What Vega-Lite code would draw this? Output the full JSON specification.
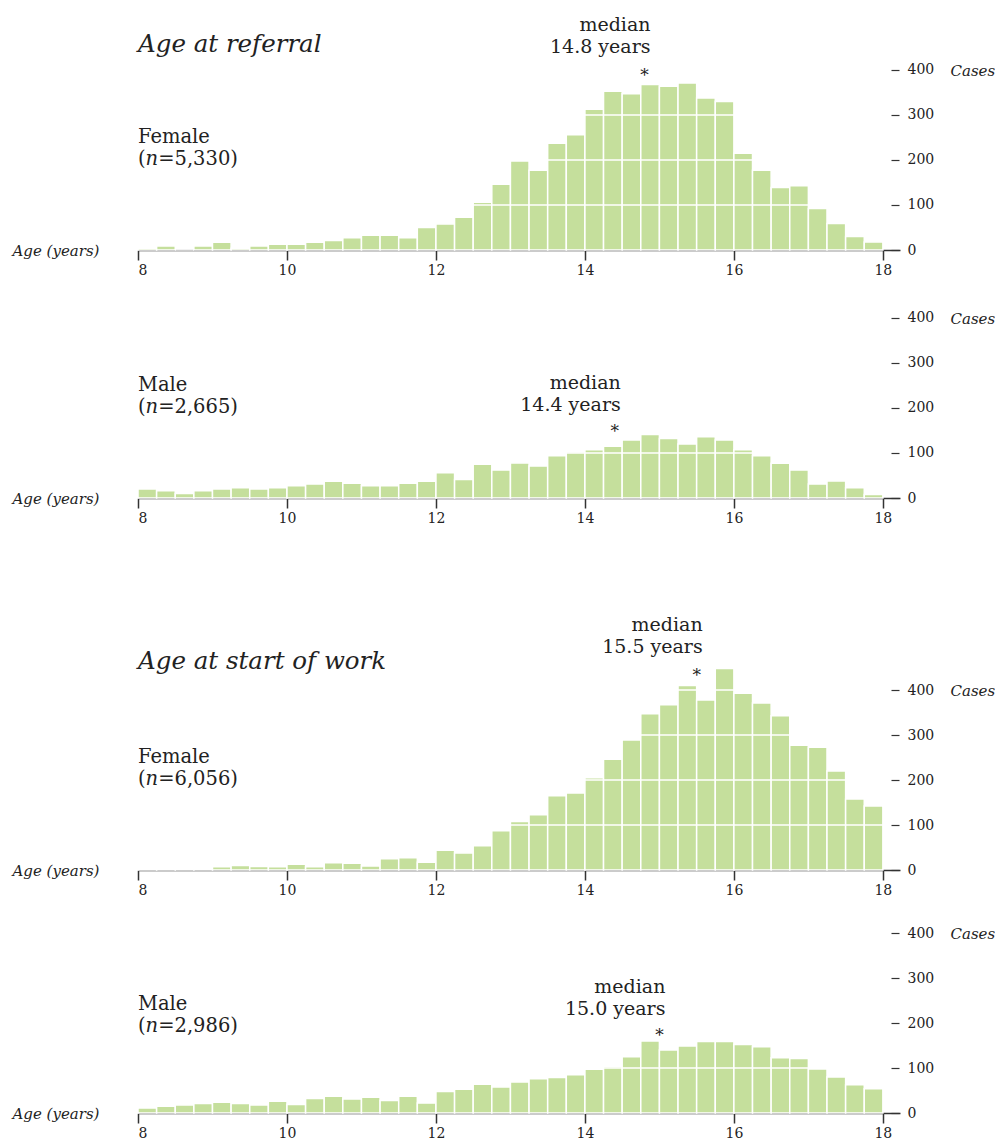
{
  "$schema": "https://vega.github.io/schema/vega-lite/v6.json",
  "background": "white",
  "padding": {"left": 12, "top": 6, "right": 0, "bottom": 0},
  "spacing": 0,
  "config": {
    "view": {"stroke": null},
    "font": "DejaVu Serif",
    "text": {"font": "DejaVu Serif", "color": "#222"},
    "axisX": {
      "grid": false,
      "domainColor": "#333", "domainWidth": 1.5, "tickColor": "#333", "tickWidth": 1.5, "tickSize": 10,
      "labelFont": "DejaVu Serif", "labelFontSize": 14, "labelPadding": 3, "labelColor": "#222",
      "titleFont": "DejaVu Serif", "titleFontStyle": "italic", "titleFontWeight": "normal", "titleFontSize": 15, "titleColor": "#222",
      "titleX": -126, "titleY": 0, "titleAlign": "left", "titleBaseline": "middle", "zindex": 1
    },
    "axisY": {
      "domain": false, "grid": false,
      "tickColor": "#333", "tickWidth": 1.2, "tickSize": 8,
      "labelFont": "DejaVu Serif", "labelFontSize": 14, "labelPadding": 8, "labelColor": "#222", "labelBaseline": "middle",
      "titleFont": "DejaVu Serif", "titleFontStyle": "italic", "titleFontWeight": "normal", "titleFontSize": 15, "titleColor": "#222",
      "titleAngle": 0, "titleAlign": "left", "titleBaseline": "middle", "titleX": 59, "zindex": 1
    }
  },
  "datasets": {
    "bins": [
      {"p":1,"a":8,"b":8.25,"n":4},{"p":1,"a":8.25,"b":8.5,"n":9},{"p":1,"a":8.5,"b":8.75,"n":0},{"p":1,"a":8.75,"b":9,"n":9},
      {"p":1,"a":9,"b":9.25,"n":17},{"p":1,"a":9.25,"b":9.5,"n":4},{"p":1,"a":9.5,"b":9.75,"n":9},{"p":1,"a":9.75,"b":10,"n":13},
      {"p":1,"a":10,"b":10.25,"n":13},{"p":1,"a":10.25,"b":10.5,"n":17},{"p":1,"a":10.5,"b":10.75,"n":21},{"p":1,"a":10.75,"b":11,"n":27},
      {"p":1,"a":11,"b":11.25,"n":33},{"p":1,"a":11.25,"b":11.5,"n":33},{"p":1,"a":11.5,"b":11.75,"n":27},{"p":1,"a":11.75,"b":12,"n":50},
      {"p":1,"a":12,"b":12.25,"n":58},{"p":1,"a":12.25,"b":12.5,"n":73},{"p":1,"a":12.5,"b":12.75,"n":106},{"p":1,"a":12.75,"b":13,"n":146},
      {"p":1,"a":13,"b":13.25,"n":198},{"p":1,"a":13.25,"b":13.5,"n":177},{"p":1,"a":13.5,"b":13.75,"n":237},{"p":1,"a":13.75,"b":14,"n":256},
      {"p":1,"a":14,"b":14.25,"n":313},{"p":1,"a":14.25,"b":14.5,"n":353},{"p":1,"a":14.5,"b":14.75,"n":347},{"p":1,"a":14.75,"b":15,"n":368},
      {"p":1,"a":15,"b":15.25,"n":364},{"p":1,"a":15.25,"b":15.5,"n":371},{"p":1,"a":15.5,"b":15.75,"n":338},{"p":1,"a":15.75,"b":16,"n":330},
      {"p":1,"a":16,"b":16.25,"n":215},{"p":1,"a":16.25,"b":16.5,"n":177},{"p":1,"a":16.5,"b":16.75,"n":139},{"p":1,"a":16.75,"b":17,"n":143},
      {"p":1,"a":17,"b":17.25,"n":92},{"p":1,"a":17.25,"b":17.5,"n":59},{"p":1,"a":17.5,"b":17.75,"n":30},{"p":1,"a":17.75,"b":18,"n":18},

      {"p":2,"a":8,"b":8.25,"n":20},{"p":2,"a":8.25,"b":8.5,"n":16},{"p":2,"a":8.5,"b":8.75,"n":10},{"p":2,"a":8.75,"b":9,"n":16},
      {"p":2,"a":9,"b":9.25,"n":20},{"p":2,"a":9.25,"b":9.5,"n":23},{"p":2,"a":9.5,"b":9.75,"n":20},{"p":2,"a":9.75,"b":10,"n":23},
      {"p":2,"a":10,"b":10.25,"n":27},{"p":2,"a":10.25,"b":10.5,"n":31},{"p":2,"a":10.5,"b":10.75,"n":37},{"p":2,"a":10.75,"b":11,"n":33},
      {"p":2,"a":11,"b":11.25,"n":27},{"p":2,"a":11.25,"b":11.5,"n":27},{"p":2,"a":11.5,"b":11.75,"n":33},{"p":2,"a":11.75,"b":12,"n":37},
      {"p":2,"a":12,"b":12.25,"n":56},{"p":2,"a":12.25,"b":12.5,"n":41},{"p":2,"a":12.5,"b":12.75,"n":75},{"p":2,"a":12.75,"b":13,"n":62},
      {"p":2,"a":13,"b":13.25,"n":78},{"p":2,"a":13.25,"b":13.5,"n":71},{"p":2,"a":13.5,"b":13.75,"n":94},{"p":2,"a":13.75,"b":14,"n":102},
      {"p":2,"a":14,"b":14.25,"n":107},{"p":2,"a":14.25,"b":14.5,"n":115},{"p":2,"a":14.5,"b":14.75,"n":129},{"p":2,"a":14.75,"b":15,"n":141},
      {"p":2,"a":15,"b":15.25,"n":132},{"p":2,"a":15.25,"b":15.5,"n":120},{"p":2,"a":15.5,"b":15.75,"n":136},{"p":2,"a":15.75,"b":16,"n":129},
      {"p":2,"a":16,"b":16.25,"n":107},{"p":2,"a":16.25,"b":16.5,"n":94},{"p":2,"a":16.5,"b":16.75,"n":77},{"p":2,"a":16.75,"b":17,"n":62},
      {"p":2,"a":17,"b":17.25,"n":31},{"p":2,"a":17.25,"b":17.5,"n":38},{"p":2,"a":17.5,"b":17.75,"n":23},{"p":2,"a":17.75,"b":18,"n":8},

      {"p":3,"a":8,"b":8.25,"n":2},{"p":3,"a":8.25,"b":8.5,"n":3},{"p":3,"a":8.5,"b":8.75,"n":3},{"p":3,"a":8.75,"b":9,"n":3},
      {"p":3,"a":9,"b":9.25,"n":7},{"p":3,"a":9.25,"b":9.5,"n":10},{"p":3,"a":9.5,"b":9.75,"n":8},{"p":3,"a":9.75,"b":10,"n":7},
      {"p":3,"a":10,"b":10.25,"n":13},{"p":3,"a":10.25,"b":10.5,"n":7},{"p":3,"a":10.5,"b":10.75,"n":16},{"p":3,"a":10.75,"b":11,"n":15},
      {"p":3,"a":11,"b":11.25,"n":9},{"p":3,"a":11.25,"b":11.5,"n":25},{"p":3,"a":11.5,"b":11.75,"n":27},{"p":3,"a":11.75,"b":12,"n":17},
      {"p":3,"a":12,"b":12.25,"n":44},{"p":3,"a":12.25,"b":12.5,"n":38},{"p":3,"a":12.5,"b":12.75,"n":54},{"p":3,"a":12.75,"b":13,"n":87},
      {"p":3,"a":13,"b":13.25,"n":108},{"p":3,"a":13.25,"b":13.5,"n":123},{"p":3,"a":13.5,"b":13.75,"n":165},{"p":3,"a":13.75,"b":14,"n":171},
      {"p":3,"a":14,"b":14.25,"n":205},{"p":3,"a":14.25,"b":14.5,"n":246},{"p":3,"a":14.5,"b":14.75,"n":289},{"p":3,"a":14.75,"b":15,"n":347},
      {"p":3,"a":15,"b":15.25,"n":367},{"p":3,"a":15.25,"b":15.5,"n":410},{"p":3,"a":15.5,"b":15.75,"n":378},{"p":3,"a":15.75,"b":16,"n":448},
      {"p":3,"a":16,"b":16.25,"n":393},{"p":3,"a":16.25,"b":16.5,"n":371},{"p":3,"a":16.5,"b":16.75,"n":343},{"p":3,"a":16.75,"b":17,"n":277},
      {"p":3,"a":17,"b":17.25,"n":273},{"p":3,"a":17.25,"b":17.5,"n":220},{"p":3,"a":17.5,"b":17.75,"n":158},{"p":3,"a":17.75,"b":18,"n":142},

      {"p":4,"a":8,"b":8.25,"n":11},{"p":4,"a":8.25,"b":8.5,"n":15},{"p":4,"a":8.5,"b":8.75,"n":18},{"p":4,"a":8.75,"b":9,"n":21},
      {"p":4,"a":9,"b":9.25,"n":24},{"p":4,"a":9.25,"b":9.5,"n":21},{"p":4,"a":9.5,"b":9.75,"n":18},{"p":4,"a":9.75,"b":10,"n":26},
      {"p":4,"a":10,"b":10.25,"n":19},{"p":4,"a":10.25,"b":10.5,"n":32},{"p":4,"a":10.5,"b":10.75,"n":37},{"p":4,"a":10.75,"b":11,"n":31},
      {"p":4,"a":11,"b":11.25,"n":35},{"p":4,"a":11.25,"b":11.5,"n":28},{"p":4,"a":11.5,"b":11.75,"n":37},{"p":4,"a":11.75,"b":12,"n":22},
      {"p":4,"a":12,"b":12.25,"n":48},{"p":4,"a":12.25,"b":12.5,"n":53},{"p":4,"a":12.5,"b":12.75,"n":64},{"p":4,"a":12.75,"b":13,"n":58},
      {"p":4,"a":13,"b":13.25,"n":69},{"p":4,"a":13.25,"b":13.5,"n":76},{"p":4,"a":13.5,"b":13.75,"n":79},{"p":4,"a":13.75,"b":14,"n":85},
      {"p":4,"a":14,"b":14.25,"n":97},{"p":4,"a":14.25,"b":14.5,"n":103},{"p":4,"a":14.5,"b":14.75,"n":125},{"p":4,"a":14.75,"b":15,"n":160},
      {"p":4,"a":15,"b":15.25,"n":140},{"p":4,"a":15.25,"b":15.5,"n":149},{"p":4,"a":15.5,"b":15.75,"n":159},{"p":4,"a":15.75,"b":16,"n":159},
      {"p":4,"a":16,"b":16.25,"n":152},{"p":4,"a":16.25,"b":16.5,"n":147},{"p":4,"a":16.5,"b":16.75,"n":123},{"p":4,"a":16.75,"b":17,"n":121},
      {"p":4,"a":17,"b":17.25,"n":98},{"p":4,"a":17.25,"b":17.5,"n":80},{"p":4,"a":17.5,"b":17.75,"n":63},{"p":4,"a":17.75,"b":18,"n":54}
    ],
    "grid": [{"v": 100}, {"v": 200}, {"v": 300}, {"v": 400}],
    "notes": [
      {"p":1,"k":"title","x":8,"y":440,"t":"Age at referral"},
      {"p":1,"k":"group","x":8,"y":238,"t":"Female"},
      {"p":1,"k":"group","x":8,"y":189,"t":"(𝑛=5,330)"},
      {"p":1,"k":"median","x":14.8,"y":487,"t":"median"},
      {"p":1,"k":"median","x":14.8,"y":438,"t":"14.8 years"},
      {"p":1,"k":"star","x":14.8,"y":376,"t":"*"},
      {"p":2,"k":"group","x":8,"y":238,"t":"Male"},
      {"p":2,"k":"group","x":8,"y":189,"t":"(𝑛=2,665)"},
      {"p":2,"k":"median","x":14.4,"y":243,"t":"median"},
      {"p":2,"k":"median","x":14.4,"y":194,"t":"14.4 years"},
      {"p":2,"k":"star","x":14.4,"y":136,"t":"*"},
      {"p":3,"k":"title","x":8,"y":447,"t":"Age at start of work"},
      {"p":3,"k":"group","x":8,"y":238,"t":"Female"},
      {"p":3,"k":"group","x":8,"y":189,"t":"(𝑛=6,056)"},
      {"p":3,"k":"median","x":15.5,"y":531,"t":"median"},
      {"p":3,"k":"median","x":15.5,"y":482,"t":"15.5 years"},
      {"p":3,"k":"star","x":15.5,"y":420,"t":"*"},
      {"p":4,"k":"group","x":8,"y":229,"t":"Male"},
      {"p":4,"k":"group","x":8,"y":180,"t":"(𝑛=2,986)"},
      {"p":4,"k":"median","x":15.0,"y":267,"t":"median"},
      {"p":4,"k":"median","x":15.0,"y":218,"t":"15.0 years"},
      {"p":4,"k":"star","x":15.0,"y":160,"t":"*"}
    ]
  },
  "vconcat": [
    {
      "width": 762, "height": 244,
      "layer": [
        {"data": {"name": "bins"}, "transform": [{"filter": "datum.p == 1"}],
         "mark": {"type": "bar", "color": "#c5df9c", "stroke": "white", "strokeWidth": 1.5},
         "encoding": {
           "x": {"field": "a", "type": "quantitative", "scale": {"domain": [8, 18.23], "nice": false, "zero": false},
                 "axis": {"values": [8, 10, 12, 14, 16, 18], "format": "d", "title": "Age (years)"}},
           "x2": {"field": "b"},
           "y": {"field": "n", "type": "quantitative", "scale": {"domain": [0, 542.2], "nice": false},
                 "axis": {"orient": "right", "offset": -9, "values": [0, 100, 200, 300, 400], "title": "Cases", "titleY": 64}},
           "y2": {"datum": 0}
         }},
        {"data": {"name": "grid"}, "mark": {"type": "rule", "color": "white", "strokeWidth": 1.5},
         "encoding": {"y": {"field": "v", "type": "quantitative"}, "x": {"datum": 8}, "x2": {"datum": 18}}},
        {"data": {"name": "notes"}, "transform": [{"filter": "datum.p == 1 && datum.k == 'title'"}],
         "mark": {"type": "text", "align": "left", "baseline": "alphabetic", "fontSize": 24.5, "fontStyle": "italic"},
         "encoding": {"x": {"field": "x", "type": "quantitative"}, "y": {"field": "y", "type": "quantitative"}, "text": {"field": "t"}}},
        {"data": {"name": "notes"}, "transform": [{"filter": "datum.p == 1 && datum.k == 'group'"}],
         "mark": {"type": "text", "align": "left", "baseline": "alphabetic", "fontSize": 19.5},
         "encoding": {"x": {"field": "x", "type": "quantitative"}, "y": {"field": "y", "type": "quantitative"}, "text": {"field": "t"}}},
        {"data": {"name": "notes"}, "transform": [{"filter": "datum.p == 1 && datum.k == 'median'"}],
         "mark": {"type": "text", "align": "right", "baseline": "alphabetic", "fontSize": 19, "dx": 6},
         "encoding": {"x": {"field": "x", "type": "quantitative"}, "y": {"field": "y", "type": "quantitative"}, "text": {"field": "t"}}},
        {"data": {"name": "notes"}, "transform": [{"filter": "datum.p == 1 && datum.k == 'star'"}],
         "mark": {"type": "text", "align": "center", "baseline": "alphabetic", "fontSize": 17},
         "encoding": {"x": {"field": "x", "type": "quantitative"}, "y": {"field": "y", "type": "quantitative"}, "text": {"field": "t"}}}
      ]
    },
    {
      "width": 762, "height": 221,
      "layer": [
        {"data": {"name": "bins"}, "transform": [{"filter": "datum.p == 2"}],
         "mark": {"type": "bar", "color": "#c5df9c", "stroke": "white", "strokeWidth": 1.5},
         "encoding": {
           "x": {"field": "a", "type": "quantitative", "scale": {"domain": [8, 18.23], "nice": false, "zero": false},
                 "axis": {"values": [8, 10, 12, 14, 16, 18], "format": "d", "title": "Age (years)"}},
           "x2": {"field": "b"},
           "y": {"field": "n", "type": "quantitative", "scale": {"domain": [0, 491.1], "nice": false},
                 "axis": {"orient": "right", "offset": -9, "values": [0, 100, 200, 300, 400], "title": "Cases", "titleY": 41}},
           "y2": {"datum": 0}
         }},
        {"data": {"name": "grid"}, "mark": {"type": "rule", "color": "white", "strokeWidth": 1.5},
         "encoding": {"y": {"field": "v", "type": "quantitative"}, "x": {"datum": 8}, "x2": {"datum": 18}}},
        {"data": {"name": "notes"}, "transform": [{"filter": "datum.p == 2 && datum.k == 'group'"}],
         "mark": {"type": "text", "align": "left", "baseline": "alphabetic", "fontSize": 19.5},
         "encoding": {"x": {"field": "x", "type": "quantitative"}, "y": {"field": "y", "type": "quantitative"}, "text": {"field": "t"}}},
        {"data": {"name": "notes"}, "transform": [{"filter": "datum.p == 2 && datum.k == 'median'"}],
         "mark": {"type": "text", "align": "right", "baseline": "alphabetic", "fontSize": 19, "dx": 6},
         "encoding": {"x": {"field": "x", "type": "quantitative"}, "y": {"field": "y", "type": "quantitative"}, "text": {"field": "t"}}},
        {"data": {"name": "notes"}, "transform": [{"filter": "datum.p == 2 && datum.k == 'star'"}],
         "mark": {"type": "text", "align": "center", "baseline": "alphabetic", "fontSize": 17},
         "encoding": {"x": {"field": "x", "type": "quantitative"}, "y": {"field": "y", "type": "quantitative"}, "text": {"field": "t"}}}
      ]
    },
    {
      "width": 762, "height": 345,
      "layer": [
        {"data": {"name": "bins"}, "transform": [{"filter": "datum.p == 3"}],
         "mark": {"type": "bar", "color": "#c5df9c", "stroke": "white", "strokeWidth": 1.5},
         "encoding": {
           "x": {"field": "a", "type": "quantitative", "scale": {"domain": [8, 18.23], "nice": false, "zero": false},
                 "axis": {"values": [8, 10, 12, 14, 16, 18], "format": "d", "title": "Age (years)"}},
           "x2": {"field": "b"},
           "y": {"field": "n", "type": "quantitative", "scale": {"domain": [0, 766.7], "nice": false},
                 "axis": {"orient": "right", "offset": -9, "values": [0, 100, 200, 300, 400], "title": "Cases", "titleY": 165}},
           "y2": {"datum": 0}
         }},
        {"data": {"name": "grid"}, "mark": {"type": "rule", "color": "white", "strokeWidth": 1.5},
         "encoding": {"y": {"field": "v", "type": "quantitative"}, "x": {"datum": 8}, "x2": {"datum": 18}}},
        {"data": {"name": "notes"}, "transform": [{"filter": "datum.p == 3 && datum.k == 'title'"}],
         "mark": {"type": "text", "align": "left", "baseline": "alphabetic", "fontSize": 24.5, "fontStyle": "italic"},
         "encoding": {"x": {"field": "x", "type": "quantitative"}, "y": {"field": "y", "type": "quantitative"}, "text": {"field": "t"}}},
        {"data": {"name": "notes"}, "transform": [{"filter": "datum.p == 3 && datum.k == 'group'"}],
         "mark": {"type": "text", "align": "left", "baseline": "alphabetic", "fontSize": 19.5},
         "encoding": {"x": {"field": "x", "type": "quantitative"}, "y": {"field": "y", "type": "quantitative"}, "text": {"field": "t"}}},
        {"data": {"name": "notes"}, "transform": [{"filter": "datum.p == 3 && datum.k == 'median'"}],
         "mark": {"type": "text", "align": "right", "baseline": "alphabetic", "fontSize": 19, "dx": 6},
         "encoding": {"x": {"field": "x", "type": "quantitative"}, "y": {"field": "y", "type": "quantitative"}, "text": {"field": "t"}}},
        {"data": {"name": "notes"}, "transform": [{"filter": "datum.p == 3 && datum.k == 'star'"}],
         "mark": {"type": "text", "align": "center", "baseline": "alphabetic", "fontSize": 17},
         "encoding": {"x": {"field": "x", "type": "quantitative"}, "y": {"field": "y", "type": "quantitative"}, "text": {"field": "t"}}}
      ]
    },
    {
      "width": 762, "height": 216,
      "layer": [
        {"data": {"name": "bins"}, "transform": [{"filter": "datum.p == 4"}],
         "mark": {"type": "bar", "color": "#c5df9c", "stroke": "white", "strokeWidth": 1.5},
         "encoding": {
           "x": {"field": "a", "type": "quantitative", "scale": {"domain": [8, 18.23], "nice": false, "zero": false},
                 "axis": {"values": [8, 10, 12, 14, 16, 18], "format": "d", "title": "Age (years)"}},
           "x2": {"field": "b"},
           "y": {"field": "n", "type": "quantitative", "scale": {"domain": [0, 480], "nice": false},
                 "axis": {"orient": "right", "offset": -9, "values": [0, 100, 200, 300, 400], "title": "Cases", "titleY": 36}},
           "y2": {"datum": 0}
         }},
        {"data": {"name": "grid"}, "mark": {"type": "rule", "color": "white", "strokeWidth": 1.5},
         "encoding": {"y": {"field": "v", "type": "quantitative"}, "x": {"datum": 8}, "x2": {"datum": 18}}},
        {"data": {"name": "notes"}, "transform": [{"filter": "datum.p == 4 && datum.k == 'group'"}],
         "mark": {"type": "text", "align": "left", "baseline": "alphabetic", "fontSize": 19.5},
         "encoding": {"x": {"field": "x", "type": "quantitative"}, "y": {"field": "y", "type": "quantitative"}, "text": {"field": "t"}}},
        {"data": {"name": "notes"}, "transform": [{"filter": "datum.p == 4 && datum.k == 'median'"}],
         "mark": {"type": "text", "align": "right", "baseline": "alphabetic", "fontSize": 19, "dx": 6},
         "encoding": {"x": {"field": "x", "type": "quantitative"}, "y": {"field": "y", "type": "quantitative"}, "text": {"field": "t"}}},
        {"data": {"name": "notes"}, "transform": [{"filter": "datum.p == 4 && datum.k == 'star'"}],
         "mark": {"type": "text", "align": "center", "baseline": "alphabetic", "fontSize": 17},
         "encoding": {"x": {"field": "x", "type": "quantitative"}, "y": {"field": "y", "type": "quantitative"}, "text": {"field": "t"}}}
      ]
    }
  ]
}
